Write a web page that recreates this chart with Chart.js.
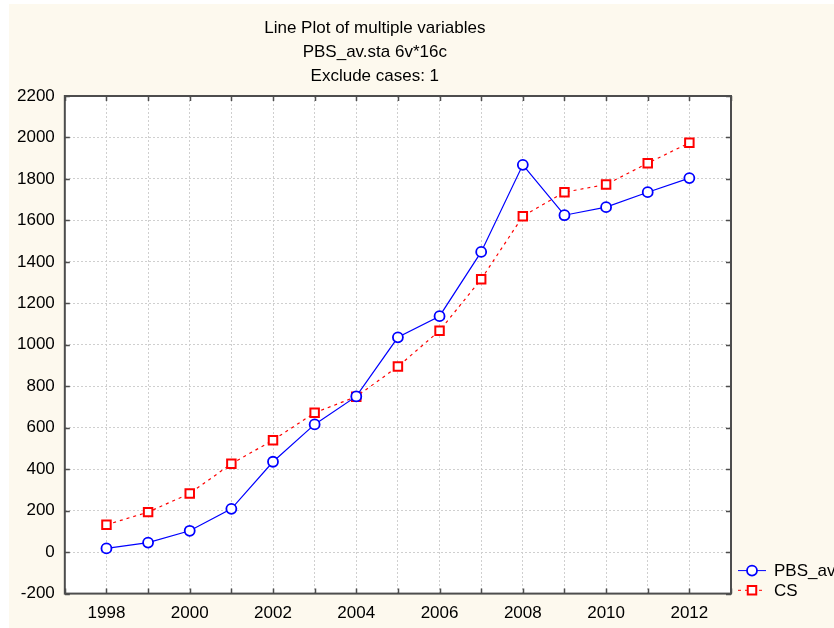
<!DOCTYPE html>
<html>
<head>
<meta charset="utf-8">
<title>Line Plot of multiple variables</title>
<script src="https://cdn.jsdelivr.net/npm/chart.js@4/dist/chart.umd.min.js"></script>
<style>
  html, body { margin: 0; padding: 0; background: #fff; overflow: hidden; }
  #chart { position: absolute; left: 9px; top: 4px; background: #fdf9ee; }
</style>
</head>
<body>
<canvas id="chart" width="825" height="624"></canvas>
<script>
const years = [1998, 1999, 2000, 2001, 2002, 2003, 2004, 2005, 2006, 2007, 2008, 2009, 2010, 2011, 2012];
const pbsAv = [18, 46, 103, 209, 436, 616, 751, 1036, 1138, 1448, 1868, 1625, 1664, 1736, 1804];
const cs = [132, 193, 283, 426, 540, 672, 750, 895, 1068, 1316, 1620, 1736, 1773, 1876, 1974];
const seriesNames = ["PBS_av", "CS"];
const titleLines = ["Line Plot of multiple variables", "PBS_av.sta 6v*16c", "Exclude cases: 1"];

const FONT = "17px 'Liberation Sans', Arial, sans-serif";

// white plot area, frame with inward ticks, title and legend
const frame = {
  id: "frame",
  beforeDraw(chart) {
    const { ctx, chartArea: a } = chart;
    ctx.save();
    ctx.fillStyle = "#fff";
    ctx.fillRect(a.left, a.top, a.width, a.height);
    ctx.restore();
  },
  afterDraw(chart) {
    const { ctx, chartArea: a, scales } = chart;
    ctx.save();
    ctx.strokeStyle = "#4d4d4d";
    ctx.lineWidth = 2;
    ctx.strokeRect(a.left, a.top, a.width, a.height);

    ctx.lineWidth = 1.5;
    ctx.beginPath();
    scales.x.ticks.forEach(t => {
      const px = Math.round(scales.x.getPixelForValue(t.value)) + 0.5;
      ctx.moveTo(px, a.top); ctx.lineTo(px, a.top + 5);
      ctx.moveTo(px, a.bottom); ctx.lineTo(px, a.bottom - 5);
    });
    scales.y.ticks.forEach(t => {
      const py = Math.round(scales.y.getPixelForValue(t.value)) + 0.5;
      ctx.moveTo(a.left, py); ctx.lineTo(a.left + 5, py);
      ctx.moveTo(a.right, py); ctx.lineTo(a.right - 5, py);
    });
    ctx.stroke();

    // title
    ctx.fillStyle = "#000";
    ctx.font = FONT;
    ctx.textAlign = "center";
    ctx.textBaseline = "alphabetic";
    const cx = a.left + 310;
    titleLines.forEach((line, i) => {
      ctx.fillText(line, cx, a.top - 63 + i * 23.8);
    });

    // legend
    ctx.textAlign = "left";
    ctx.textBaseline = "middle";
    chart.data.datasets.forEach((ds, i) => {
      const y = a.bottom - 23 + i * 19.7;
      const x0 = a.right + 7;
      ctx.strokeStyle = ds.borderColor;
      ctx.lineWidth = 1;
      ctx.setLineDash(ds.borderDash || []);
      ctx.beginPath();
      ctx.moveTo(x0, y); ctx.lineTo(x0 + 28, y);
      ctx.stroke();
      ctx.setLineDash([]);
      ctx.lineWidth = ds.pointBorderWidth;
      ctx.fillStyle = "#fff";
      ctx.beginPath();
      if (ds.pointStyle === "rect") {
        const s = ds.pointRadius * Math.SQRT1_2;
        ctx.rect(x0 + 14 - s, y - s, 2 * s, 2 * s);
      } else {
        ctx.arc(x0 + 14, y, ds.pointRadius, 0, Math.PI * 2);
      }
      ctx.fill();
      ctx.stroke();
      ctx.fillStyle = "#000";
      ctx.fillText(ds.label, x0 + 36, y + 1);
    });
    ctx.restore();
  }
};

const ctx = document.getElementById("chart").getContext("2d");
new Chart(ctx, {
  type: "line",
  data: {
    datasets: [
      {
        label: seriesNames[0],
        data: years.map((yr, i) => ({ x: yr, y: pbsAv[i] })),
        borderColor: "#0000ff",
        borderWidth: 1.2,
        pointStyle: "circle",
        pointRadius: 5,
        pointBorderWidth: 1.8,
        pointBorderColor: "#0000ff",
        pointBackgroundColor: "#fff",
        tension: 0
      },
      {
        label: seriesNames[1],
        data: years.map((yr, i) => ({ x: yr, y: cs[i] })),
        borderColor: "#ff0000",
        borderWidth: 1.2,
        borderDash: [3, 4],
        pointStyle: "rect",
        pointRadius: 6,
        pointBorderWidth: 2,
        pointBorderColor: "#ff0000",
        pointBackgroundColor: "#fff",
        tension: 0
      }
    ]
  },
  options: {
    responsive: false,
    animation: false,
    devicePixelRatio: 1,
    layout: { padding: { left: -2, right: 103, top: 92, bottom: -6 } },
    plugins: {
      legend: { display: false },
      title: { display: false },
      tooltip: { enabled: false }
    },
    scales: {
      x: {
        type: "linear",
        min: 1997,
        max: 2013,
        border: { display: false, dash: [2, 2] },
        grid: { color: "#cfcfcf", drawTicks: false, lineWidth: 1 },
        ticks: {
          stepSize: 1,
          autoSkip: false,
          maxRotation: 0,
          padding: 10,
          color: "#000",
          font: { family: "'Liberation Sans', Arial, sans-serif", size: 17 },
          callback: v => (v % 2 === 0 ? String(v) : "")
        }
      },
      y: {
        min: -200,
        max: 2200,
        border: { display: false, dash: [2, 2] },
        grid: { color: "#cfcfcf", drawTicks: false, lineWidth: 1 },
        ticks: {
          stepSize: 200,
          padding: 10,
          color: "#000",
          font: { family: "'Liberation Sans', Arial, sans-serif", size: 17 },
          callback: v => String(v)
        }
      }
    }
  },
  plugins: [frame]
});
</script>
</body>
</html>
